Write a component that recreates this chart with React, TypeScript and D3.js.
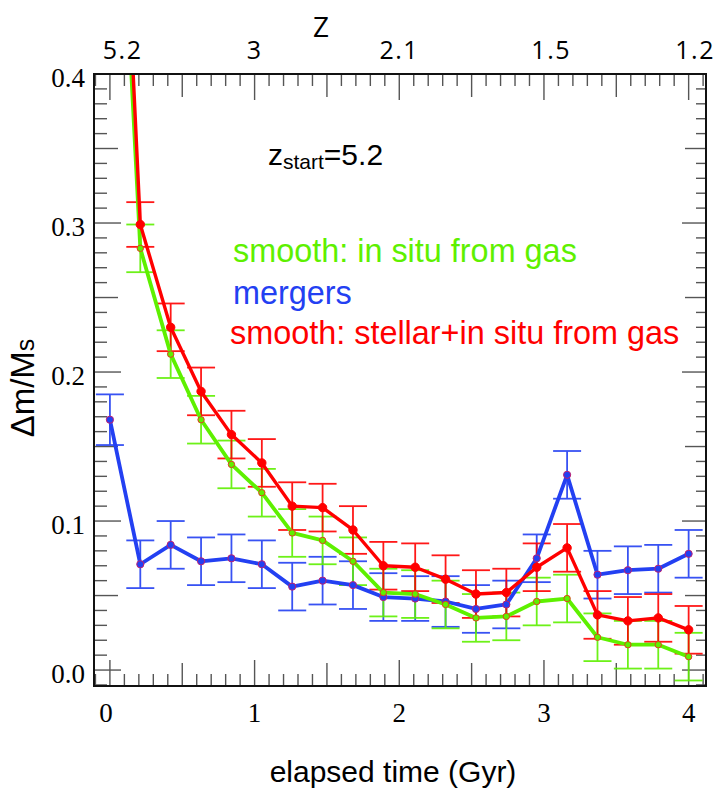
import React from 'react'
import * as d3 from 'd3'

// elapsed time since z_start (Gyr), one point per snapshot
const times = [0, 0.21, 0.42, 0.63, 0.84, 1.05, 1.26, 1.47, 1.68, 1.89, 2.11, 2.32, 2.53, 2.74, 2.95, 3.16, 3.37, 3.58, 3.79, 4.0]

const mergers = [0.168, 0.071, 0.084, 0.073, 0.075, 0.071, 0.056, 0.060, 0.057, 0.049, 0.048, 0.046, 0.041, 0.044, 0.075, 0.131, 0.064, 0.067, 0.068, 0.078]
const mergersErr = [0.017, 0.016, 0.016, 0.016, 0.016, 0.016, 0.016, 0.016, 0.016, 0.016, 0.015, 0.017, 0.016, 0.016, 0.016, 0.016, 0.016, 0.016, 0.016, 0.016]

const inSitu = [0.68, 0.283, 0.212, 0.168, 0.138, 0.119, 0.092, 0.087, 0.073, 0.052, 0.051, 0.044, 0.035, 0.036, 0.046, 0.048, 0.022, 0.017, 0.017, 0.009]
const inSituErr = [0.016, 0.016, 0.016, 0.016, 0.016, 0.016, 0.016, 0.016, 0.016, 0.016, 0.016, 0.016, 0.016, 0.016, 0.016, 0.016, 0.016, 0.016, 0.016, 0.016]

const stellar = [0.73, 0.299, 0.230, 0.187, 0.158, 0.139, 0.110, 0.109, 0.094, 0.070, 0.069, 0.061, 0.051, 0.052, 0.069, 0.082, 0.037, 0.033, 0.035, 0.027]
const stellarErr = [0.016, 0.015, 0.016, 0.016, 0.016, 0.016, 0.016, 0.016, 0.016, 0.016, 0.016, 0.016, 0.016, 0.016, 0.016, 0.016, 0.016, 0.016, 0.016, 0.016]

const xTickLabels = ['0', '1', '2', '3', '4']
const yTickLabels = ['0.0', '0.1', '0.2', '0.3', '0.4']
const zLabels = ['5.2', '3', '2.1', '1.5', '1.2']
const zLabelTimes = [0.088, 1.0, 2.0, 3.05, 4.045]

const GREEN = '#5ef000'
const BLUE = '#2340f2'
const RED = '#ff0000'

const W = 715
const H = 803
const frame = { left: 94, right: 706, top: 74, bottom: 686 }

const sans = '"Liberation Sans", Arial, sans-serif'
const serif = '"Liberation Serif", "Times New Roman", Tinos, "DejaVu Serif", serif'
const light = '"Open Sans", "Noto Sans", sans-serif'

const x = d3.scaleLinear().domain([-0.11, 4.12]).range([frame.left, frame.right])
const y = d3.scaleLinear().domain([-0.0107, 0.4]).range([frame.bottom, frame.top])

interface Series {
  name: string
  values: number[]
  errs: number[]
  color: string
  width: number
  r: number
  dotFill: string
  dotStroke: string
}

const series: Series[] = [
  { name: 'mergers', values: mergers, errs: mergersErr, color: BLUE, width: 3.8, r: 3.6, dotFill: BLUE, dotStroke: '#c02070' },
  { name: 'insitu', values: inSitu, errs: inSituErr, color: GREEN, width: 3.8, r: 3.2, dotFill: GREEN, dotStroke: '#e04020' },
  { name: 'stellar', values: stellar, errs: stellarErr, color: RED, width: 3.4, r: 4.2, dotFill: RED, dotStroke: RED },
]

const line = d3.line<number>()
  .x((_, i) => x(times[i]))
  .y(d => y(d))

function tickLen (k: number): number {
  if (k % 10 === 0) return 26
  if (k % 5 === 0) return 23
  return 12
}

export default function App () {
  const xMinor = d3.range(-1, 42).filter(k => x(k / 10) > frame.left + 1 && x(k / 10) < frame.right - 1)
  const yMinor = d3.range(-1, 41).filter(k => y(k / 100) < frame.bottom - 1 && y(k / 100) > frame.top + 1)

  return (
    <svg width={W} height={H} style={{ position: 'absolute', left: 0, top: 0, background: '#fff' }}>
      <defs>
        <clipPath id="plot">
          <rect x={frame.left} y={frame.top} width={frame.right - frame.left} height={frame.bottom - frame.top} />
        </clipPath>
      </defs>

      {/* ticks */}
      <g stroke="#555" strokeWidth={1.4}>
        {xMinor.map(k => (
          <g key={'x' + k}>
            <line x1={x(k / 10)} x2={x(k / 10)} y1={frame.bottom} y2={frame.bottom - tickLen(k)} />
            <line x1={x(k / 10)} x2={x(k / 10)} y1={frame.top} y2={frame.top + tickLen(k)} />
          </g>
        ))}
        {yMinor.map(k => (
          <g key={'y' + k}>
            <line x1={frame.left} x2={frame.left + tickLen(k) + 1} y1={y(k / 100)} y2={y(k / 100)} />
            <line x1={frame.right} x2={frame.right - tickLen(k) + 2} y1={y(k / 100)} y2={y(k / 100)} />
          </g>
        ))}
      </g>

      {/* data */}
      <g clipPath="url(#plot)">
        {series.map(s => (
          <g key={s.name + 'err'} stroke={s.color} strokeWidth={1.8} opacity={0.9}>
            {s.values.map((v, i) => (
              <g key={i}>
                <line x1={x(times[i])} x2={x(times[i])} y1={y(v - s.errs[i])} y2={y(v + s.errs[i])} />
                <line x1={x(times[i]) - 14} x2={x(times[i]) + 14} y1={y(v - s.errs[i])} y2={y(v - s.errs[i])} />
                <line x1={x(times[i]) - 14} x2={x(times[i]) + 14} y1={y(v + s.errs[i])} y2={y(v + s.errs[i])} />
              </g>
            ))}
          </g>
        ))}
        {series.map(s => (
          <path key={s.name + 'line'} d={line(s.values) || ''} fill="none" stroke={s.color} strokeWidth={s.width} strokeLinejoin="round" />
        ))}
        {series.map(s => (
          <g key={s.name + 'dots'}>
            {s.values.map((v, i) => (
              <circle key={i} cx={x(times[i])} cy={y(v)} r={s.r} fill={s.dotFill} stroke={s.dotStroke} strokeWidth={1} />
            ))}
          </g>
        ))}
      </g>

      <rect x={frame.left} y={frame.top} width={frame.right - frame.left} height={frame.bottom - frame.top} fill="none" stroke="#111" strokeWidth={2} />

      {/* tick labels */}
      <g style={{ fontFamily: serif, fontSize: 27 }} fill="#000">
        {yTickLabels.map((t, i) => (
          <text key={t} x={85} y={y(i / 10) + 13} textAnchor="end">{t}</text>
        ))}
        {xTickLabels.map((t, i) => (
          <text key={t} x={x(i) - (i === 0 ? 4 : 0)} y={722} textAnchor="middle">{t}</text>
        ))}
      </g>
      <g style={{ fontFamily: light, fontSize: 25, letterSpacing: 1.5 }} fill="#000">
        {zLabels.map((t, i) => (
          <text key={t} x={x(zLabelTimes[i])} y={58.5} textAnchor="middle">{t}</text>
        ))}
      </g>
      <text x={321} y={37} textAnchor="middle" style={{ fontFamily: light, fontSize: 28 }}>Z</text>

      {/* axis titles */}
      <text x={393} y={782} textAnchor="middle" style={{ fontFamily: sans, fontSize: 30 }}>elapsed time (Gyr)</text>
      <text transform="translate(34,388) rotate(-90)" textAnchor="middle" style={{ fontFamily: sans, fontSize: 33 }}>
        Δm/M<tspan style={{ fontSize: 25 }}>s</tspan>
      </text>

      {/* annotations */}
      <text x={268} y={165} style={{ fontFamily: sans, fontSize: 30 }}>
        z<tspan style={{ fontSize: 21 }} dy={4}>start</tspan><tspan dy={-4}>=5.2</tspan>
      </text>
      <g style={{ fontFamily: sans, fontSize: 32.4 }}>
        <text x={233} y={262} fill={GREEN}>smooth: in situ from gas</text>
        <text x={233} y={303.5} fill={BLUE}>mergers</text>
        <text x={230} y={343.5} fill={RED}>smooth: stellar+in situ from gas</text>
      </g>
    </svg>
  )
}
